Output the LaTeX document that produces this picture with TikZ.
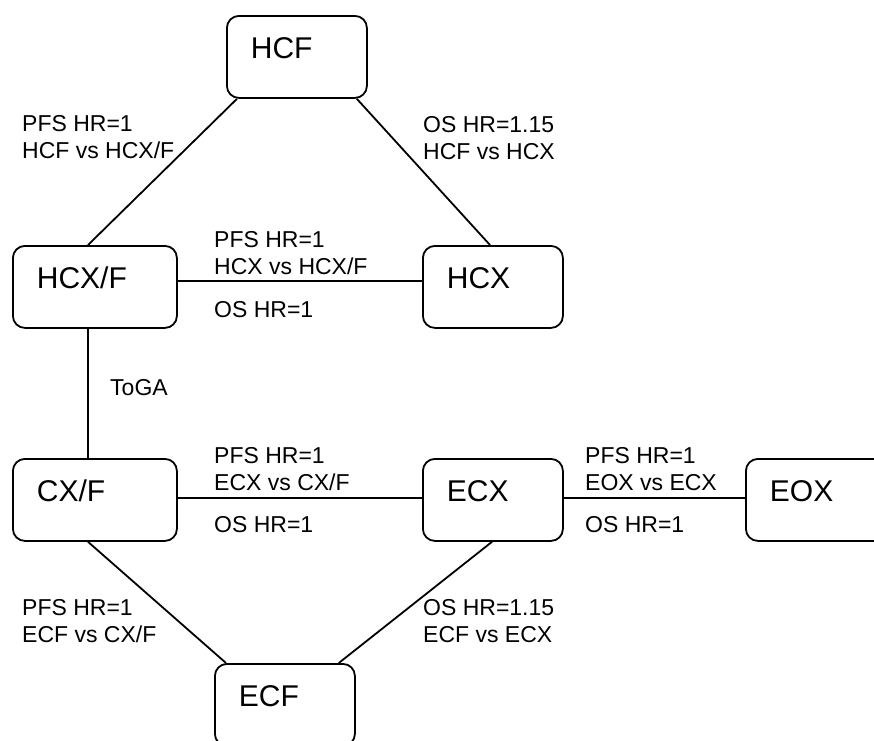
\documentclass[tikz,border=0pt]{standalone}
\usepackage{fontspec}
\setmainfont{Liberation Sans}
\usetikzlibrary{calc}
\begin{document}
\begin{tikzpicture}[x=1pt,y=-1pt,
  box/.style={draw, line width=1.8pt, rounded corners=12pt, anchor=north west,
    inner xsep=24pt, inner ysep=21pt, text height=22pt, text depth=18pt,
    align=left, font=\fontsize{30}{36}\selectfont},
  conn/.style={line width=1.8pt},
  lab/.style={anchor=base west, inner sep=0pt, align=left,
    font=\fontsize{23}{26.5}\selectfont}]
\useasboundingbox (0,0) rectangle (874,740);
% boxes
\node[box, text width=92pt]  (hcf)  at (226,15)  {HCF};
\node[box, text width=116pt] (hcxf) at (12,245)  {HCX/F};
\node[box, text width=92pt]  (hcx)  at (422,245) {HCX};
\node[box, text width=116pt] (cxf)  at (12,458)  {CX/F};
\node[box, text width=92pt]  (ecx)  at (422,458) {ECX};
\node[box, text width=92pt]  (eox)  at (745,458) {EOX};
\node[box, text width=92pt]  (ecf)  at (214,663) {ECF};
% connectors
\draw[conn] ($(hcf.south west)+(11,0)$) -- ($(hcxf.north west)+(76,0)$);
\draw[conn] ($(hcf.south east)+(-11,0)$) -- ($(hcx.north west)+(68,0)$);
\draw[conn] ($(hcxf.north east)+(0,36)$) -- ($(hcx.north west)+(0,36)$);
\draw[conn] ($(hcxf.south west)+(76,0)$) -- ($(cxf.north west)+(76,0)$);
\draw[conn] ($(cxf.north east)+(0,40)$) -- ($(ecx.north west)+(0,40)$);
\draw[conn] ($(ecx.north east)+(0,40)$) -- ($(eox.north west)+(0,40)$);
\draw[conn] ($(cxf.south west)+(76,0)$) -- ($(ecf.north west)+(12,0)$);
\draw[conn] ($(ecx.south west)+(70,0)$) -- ($(ecf.north east)+(-17,0)$);
% labels (base = baseline of last line)
\node[lab] (l1)  at (22,158)  {PFS HR=1\\HCF vs HCX/F};
\node[lab] (l2)  at (423,159) {OS HR=1.15\\HCF vs HCX};
\node[lab] (l3)  at (214,274) {PFS HR=1\\HCX vs HCX/F};
\node[lab] (l4)  at (214,317) {OS HR=1};
\node[lab] (l5)  at (110,395) {ToGA};
\node[lab] (l6)  at (214,490) {PFS HR=1\\ECX vs CX/F};
\node[lab] (l7)  at (214,532) {OS HR=1};
\node[lab] (l8)  at (585,490) {PFS HR=1\\EOX vs ECX};
\node[lab] (l9)  at (585,532) {OS HR=1};
\node[lab] (l10) at (22,642)  {PFS HR=1\\ECF vs CX/F};
\node[lab] (l11) at (423,642) {OS HR=1.15\\ECF vs ECX};
\end{tikzpicture}
\end{document}
